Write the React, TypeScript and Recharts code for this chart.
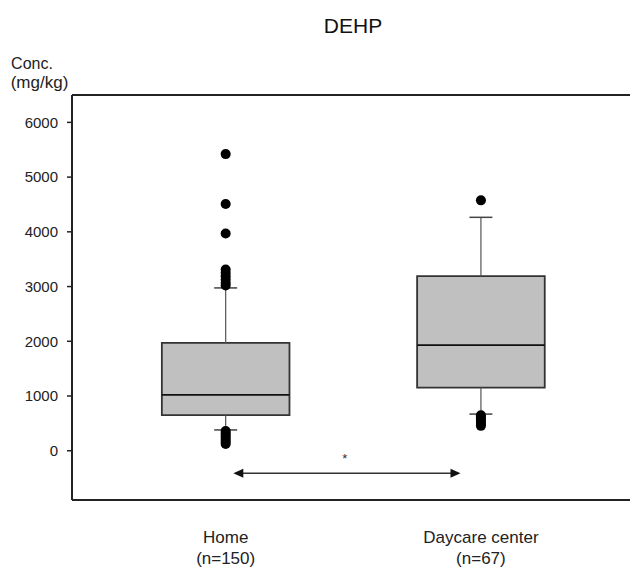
import React from 'react';
import {
  ComposedChart,
  XAxis,
  YAxis,
  Scatter,
  ReferenceArea,
  ReferenceLine,
  ReferenceDot,
} from 'recharts';

const categories = ['Home', 'Daycare center'];
const sampleSizes = ['(n=150)', '(n=67)'];
const catX = [1, 2];
const lowerWhisker = [380, 670];
const q1 = [650, 1155];
const median = [1020, 1930];
const q3 = [1970, 3190];
const upperWhisker = [2975, 4265];
const homeOutliers = [5420, 4510, 3970, 3310, 3250, 3190, 3130, 3070, 3020, 360, 320, 280, 240, 200, 160, 125];
const daycareOutliers = [4575, 650, 610, 570, 530, 490, 455];
const yTicks = [0, 1000, 2000, 3000, 4000, 5000, 6000];
const yDomain = [-900, 6500];
const xDomain = [0.398, 2.584];
const arrowFrom = 1.03;
const arrowTo = 1.92;
const arrowValue = -412;
const starX = 1.467;
const starValue = -225;

const BOX_HALF = 0.25;
const CAP_HALF = 0.045;
const FONT = '"Liberation Sans", Arial, sans-serif';

const homeData = homeOutliers.map((v) => ({ x: catX[0], y: v }));
const daycareData = daycareOutliers.map((v) => ({ x: catX[1], y: v }));

const Dot = (p: any) => <circle cx={p.cx} cy={p.cy} r={5} fill="#000" />;

const XTick = (p: any) => {
  const i = catX.indexOf(p.payload.value);
  if (i < 0) return null;
  return (
    <g>
      <text x={p.x} y={p.y + 41} textAnchor="middle" fontSize={17} fill="#222" fontFamily={FONT}>
        {categories[i]}
      </text>
      <text x={p.x} y={p.y + 62} textAnchor="middle" fontSize={17} fill="#222" fontFamily={FONT}>
        {sampleSizes[i]}
      </text>
    </g>
  );
};

const Arrow = (p: any) => {
  const { x1, y1, x2, y2 } = p;
  const hl = 10;
  const hh = 4.5;
  return (
    <g>
      <line x1={x1 + 4} y1={y1} x2={x2 - 4} y2={y2} stroke="#333" strokeWidth={1.5} />
      <polygon points={`${x1},${y1} ${x1 + hl},${y1 - hh} ${x1 + hl},${y1 + hh}`} fill="#111" />
      <polygon points={`${x2},${y2} ${x2 - hl},${y2 - hh} ${x2 - hl},${y2 + hh}`} fill="#111" />
    </g>
  );
};

const Star = (p: any) => (
  <text x={p.cx} y={p.cy} textAnchor="middle" fontSize={13} fill="#333" fontFamily={FONT}>
    *
  </text>
);

export default function App() {
  return (
    <div style={{ position: 'absolute', left: 0, top: 0, width: 630, height: 569, background: '#fff', fontFamily: FONT }}>
      <ComposedChart width={630} height={569} margin={{ top: 95, right: 0, bottom: 0, left: 12 }}>
        <XAxis
          type="number"
          dataKey="x"
          domain={xDomain}
          ticks={catX}
          allowDataOverflow
          height={69}
          tickLine={false}
          tickSize={0}
          axisLine={{ stroke: '#222', strokeWidth: 2 }}
          tick={<XTick />}
        />
        <YAxis
          type="number"
          dataKey="y"
          domain={yDomain}
          ticks={yTicks}
          allowDataOverflow
          width={60}
          tickSize={5}
          tickMargin={9}
          tickLine={{ stroke: '#222', strokeWidth: 1.5 }}
          axisLine={{ stroke: '#222', strokeWidth: 2 }}
          tick={{ fontSize: 15, fill: '#222', fontFamily: FONT }}
        />
        <ReferenceLine y={yDomain[1]} stroke="#222" strokeWidth={2} ifOverflow="visible" />
        {catX.map((cx, i) => (
          <ReferenceLine
            key={`wu${i}`}
            segment={[{ x: cx, y: q3[i] }, { x: cx, y: upperWhisker[i] }]}
            stroke="#555"
            strokeWidth={1.2}
          />
        ))}
        {catX.map((cx, i) => (
          <ReferenceLine
            key={`wl${i}`}
            segment={[{ x: cx, y: q1[i] }, { x: cx, y: lowerWhisker[i] }]}
            stroke="#555"
            strokeWidth={1.2}
          />
        ))}
        {catX.map((cx, i) => (
          <ReferenceLine
            key={`cu${i}`}
            segment={[{ x: cx - CAP_HALF, y: upperWhisker[i] }, { x: cx + CAP_HALF, y: upperWhisker[i] }]}
            stroke="#444"
            strokeWidth={1.5}
          />
        ))}
        {catX.map((cx, i) => (
          <ReferenceLine
            key={`cl${i}`}
            segment={[{ x: cx - CAP_HALF, y: lowerWhisker[i] }, { x: cx + CAP_HALF, y: lowerWhisker[i] }]}
            stroke="#444"
            strokeWidth={1.5}
          />
        ))}
        {catX.map((cx, i) => (
          <ReferenceArea
            key={`b${i}`}
            x1={cx - BOX_HALF}
            x2={cx + BOX_HALF}
            y1={q1[i]}
            y2={q3[i]}
            fill="#c0c0c0"
            fillOpacity={1}
            stroke="#333"
            strokeWidth={1.8}
          />
        ))}
        {catX.map((cx, i) => (
          <ReferenceLine
            key={`m${i}`}
            segment={[{ x: cx - BOX_HALF, y: median[i] }, { x: cx + BOX_HALF, y: median[i] }]}
            stroke="#111"
            strokeWidth={1.8}
          />
        ))}
        <Scatter data={homeData} shape={<Dot />} isAnimationActive={false} />
        <Scatter data={daycareData} shape={<Dot />} isAnimationActive={false} />
        <ReferenceLine
          segment={[{ x: arrowFrom, y: arrowValue }, { x: arrowTo, y: arrowValue }]}
          shape={(p: any) => <Arrow {...p} />}
        />
        <ReferenceDot x={starX} y={starValue} r={0} shape={(p: any) => <Star {...p} />} />
      </ComposedChart>
      <svg width={630} height={569} style={{ position: 'absolute', left: 0, top: 0, pointerEvents: 'none' }}>
        <text x={353} y={33} textAnchor="middle" fontSize={21} fill="#111" fontFamily={FONT}>
          DEHP
        </text>
        <text x={32} y={69} textAnchor="middle" fontSize={16} fill="#222" fontFamily={FONT}>
          Conc.
        </text>
        <text x={39.5} y={88} textAnchor="middle" fontSize={17} fill="#222" fontFamily={FONT}>
          (mg/kg)
        </text>
      </svg>
    </div>
  );
}
